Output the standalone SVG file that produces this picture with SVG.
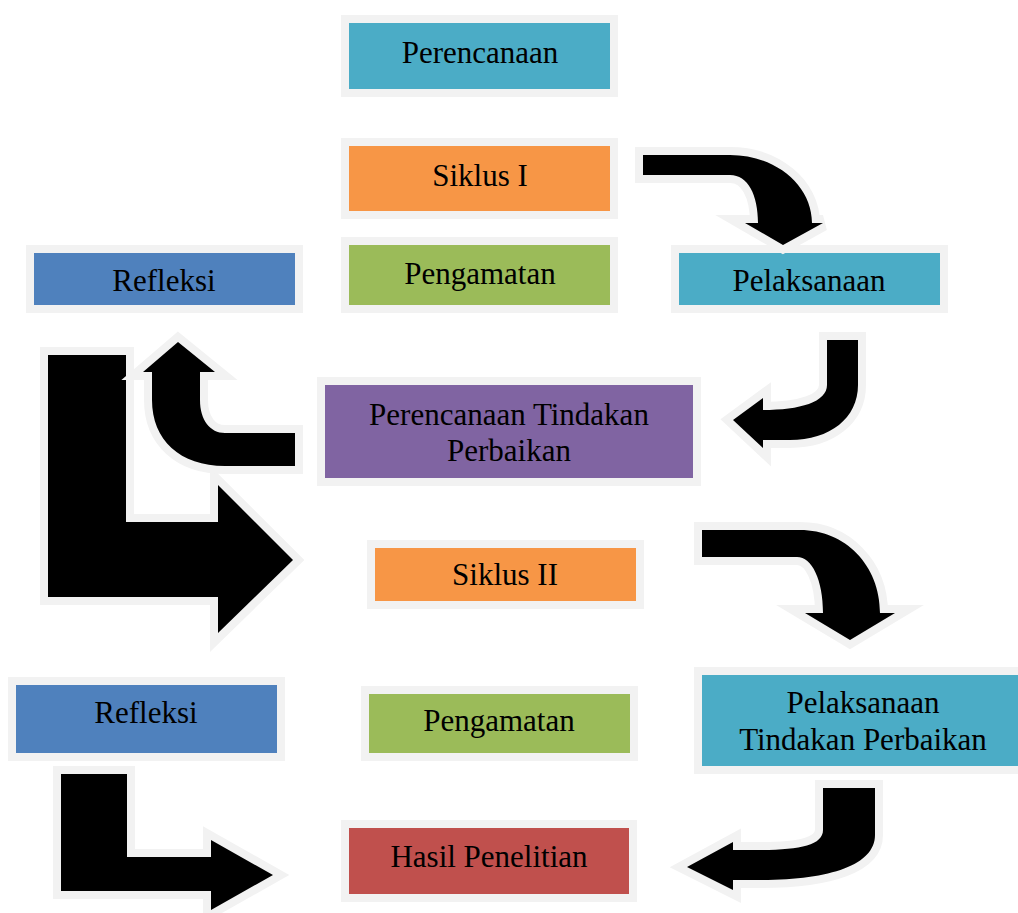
<svg xmlns="http://www.w3.org/2000/svg" width="1018" height="913" viewBox="0 0 1018 913">
<style>
.b{stroke:#f2f2f2;stroke-width:16;paint-order:stroke;stroke-linejoin:miter}
.a{fill:#000;stroke:#f2f2f2;stroke-width:16;paint-order:stroke;stroke-linejoin:miter;stroke-miterlimit:4}
.t{font-family:"Liberation Serif","Times New Roman",serif;font-size:31px;fill:#000;text-anchor:middle}
.cy{fill:#4bacc6}.or{fill:#f79646}.gr{fill:#9bbb59}.bl{fill:#4f81bd}.pu{fill:#8064a2}.rd{fill:#c0504d}
</style>
<rect width="1018" height="913" fill="#fff"/>
<g id="n-perencanaan"><rect class="b cy" x="349" y="23" width="261" height="66"/><text class="t" x="480" y="63">Perencanaan</text></g>
<g id="n-siklus1"><rect class="b or" x="349" y="146" width="261" height="65"/><text class="t" x="480" y="186">Siklus I</text></g>
<g id="n-pengamatan1"><rect class="b gr" x="349" y="245" width="261" height="60"/><text class="t" x="480" y="284">Pengamatan</text></g>
<g id="n-refleksi1"><rect class="b bl" x="34" y="253" width="261" height="52"/><text class="t" x="164" y="291">Refleksi</text></g>
<g id="n-pelaksanaan"><rect class="b cy" x="679" y="253" width="261" height="52"/><text class="t" x="809" y="291">Pelaksanaan</text></g>
<g id="n-ptp"><rect class="b pu" x="325" y="385" width="368" height="93"/><text class="t" x="509" y="425">Perencanaan Tindakan</text><text class="t" x="509" y="461">Perbaikan</text></g>
<g id="n-siklus2"><rect class="b or" x="375" y="548" width="261" height="53"/><text class="t" x="505" y="585">Siklus II</text></g>
<g id="n-refleksi2"><rect class="b bl" x="16" y="685" width="261" height="68"/><text class="t" x="146" y="723">Refleksi</text></g>
<g id="n-pengamatan2"><rect class="b gr" x="369" y="694" width="261" height="59"/><text class="t" x="499" y="731">Pengamatan</text></g>
<g id="n-pltp"><rect class="b cy" x="702" y="675" width="324" height="91"/><text class="t" x="863" y="713">Pelaksanaan</text><text class="t" x="863" y="750">Tindakan Perbaikan</text></g>
<g id="n-hasil"><rect class="b rd" x="349" y="828" width="280" height="66"/><text class="t" x="489" y="867">Hasil Penelitian</text></g>
<g id="connectors">
<path class="a" d="M643,155 L730,155 C775,155 812,185 812,223 L823,223 L783,245 L745,223 L758,223 C758,195 748,175 730,175 L643,175 Z"/>
<path class="a" d="M827,340 L858,340 L858,385 C858,418 830,440 790,440 L763,440 L763,448 L733,420 L763,398 L763,410 C800,410 827,402 827,385 Z"/>
<path class="a" d="M48,355 L126,355 L126,522 L218,522 L218,485 L293,560 L218,633 L218,597 L48,597 Z"/>
<path class="a" d="M295,433 L225,433 C210,433 200,420 200,400 L200,372 L215,372 L178,342 L143,372 L152,372 L152,400 C152,440 180,466 225,466 L295,466 Z"/>
<path class="a" d="M702,530 L800,530 C845,530 880,565 880,613 L895,613 L850,640 L805,613 L823,613 C823,580 812,557 797,557 L702,557 Z"/>
<path class="a" d="M823,788 L875,788 L875,835 C875,865 830,880 760,880 L733,880 L733,890 L687,867 L733,842 L733,850 L760,850 C800,850 823,845 823,830 Z"/>
<path class="a" d="M61,774 L127,774 L127,857 L211,857 L211,840 L273,875 L211,910 L211,891 L61,891 Z"/>
</g>
</svg>
